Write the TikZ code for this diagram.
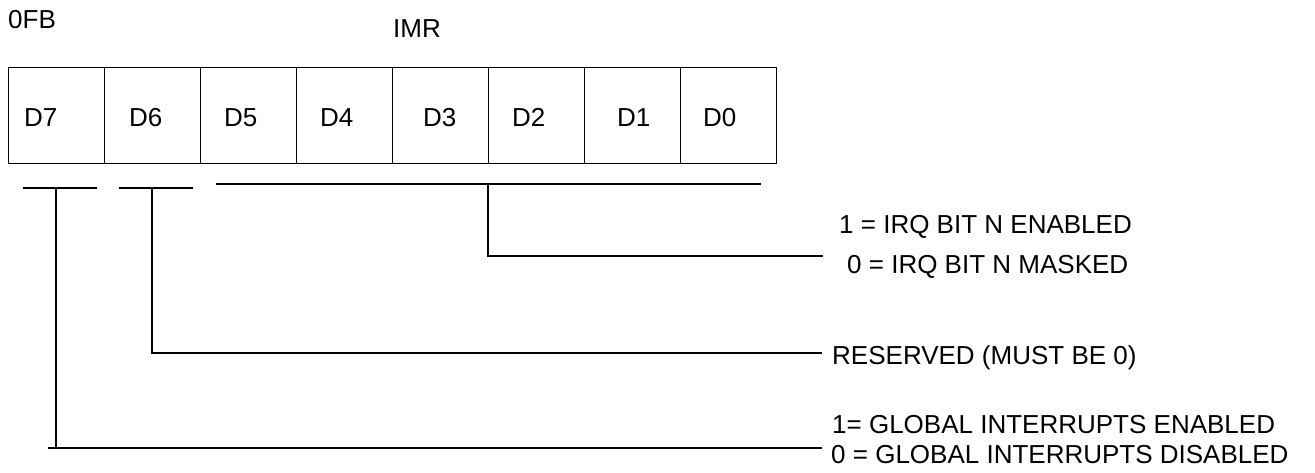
\documentclass[tikz,border=0pt]{standalone}
\usepackage{fontspec}
\setmainfont{Liberation Sans}
\begin{document}
\begin{tikzpicture}[x=1pt,y=-1pt,
  cell/.style={draw, line width=1.3pt, minimum width=96pt, minimum height=96pt, inner sep=0pt, anchor=north west},
  txt/.style={anchor=base west, inner sep=0pt, font=\fontsize{26}{30}\selectfont},
  ln/.style={line width=1.3pt}]
\useasboundingbox (0,0) rectangle (1315,472);
% register cells
\foreach \i/\b in {0/7,1/6,2/5,3/4,4/3,5/2,6/1,7/0} {
  \node[cell] (c\b) at ({8+96*\i},67) {};
}
\node[txt] (l7) at (24,126) {D7};
\node[txt] (l6) at (129,126) {D6};
\node[txt] (l5) at (224,126) {D5};
\node[txt] (l4) at (320,126) {D4};
\node[txt] (l3) at (423,126) {D3};
\node[txt] (l2) at (512,126) {D2};
\node[txt] (l1) at (617,126) {D1};
\node[txt] (l0) at (703,126) {D0};
\node[txt] (addr) at (8,28) {0FB};
\node[txt] (name) at (393,37) {IMR};
% descriptions
\node[txt] (irq1) at (839,233) {1 = IRQ BIT N ENABLED};
\node[txt] (irq0) at (847,273) {0 = IRQ BIT N MASKED};
\node[txt] (res) at (832,364) {RESERVED (MUST BE 0)};
\node[txt] (gl1) at (832,433) {1= GLOBAL INTERRUPTS ENABLED};
\node[txt] (gl0) at (831,463) {0 = GLOBAL INTERRUPTS DISABLED};
% brackets
\coordinate (b7l) at (23,188); \coordinate (b7r) at (97,188);
\coordinate (b6l) at (119,188); \coordinate (b6r) at (193,188);
\coordinate (b0l) at (216,184); \coordinate (b0r) at (761,184);
\draw[ln] (b7l) -- (b7r);
\draw[ln] (b6l) -- (b6r);
\draw[ln] (b0l) -- (b0r);
% leaders
\coordinate (t0) at (488,184); \coordinate (e0) at (823,256);
\coordinate (t6) at (152,188); \coordinate (e6) at (822,353);
\coordinate (t7) at (56,188);  \coordinate (e7) at (822,448);
\draw[ln] (t0) |- (e0);
\draw[ln] (t6) |- (e6);
\draw[ln] (t7) |- (e7);
\draw[ln] (48,448) -- (t7 |- e7);
\end{tikzpicture}
\end{document}
